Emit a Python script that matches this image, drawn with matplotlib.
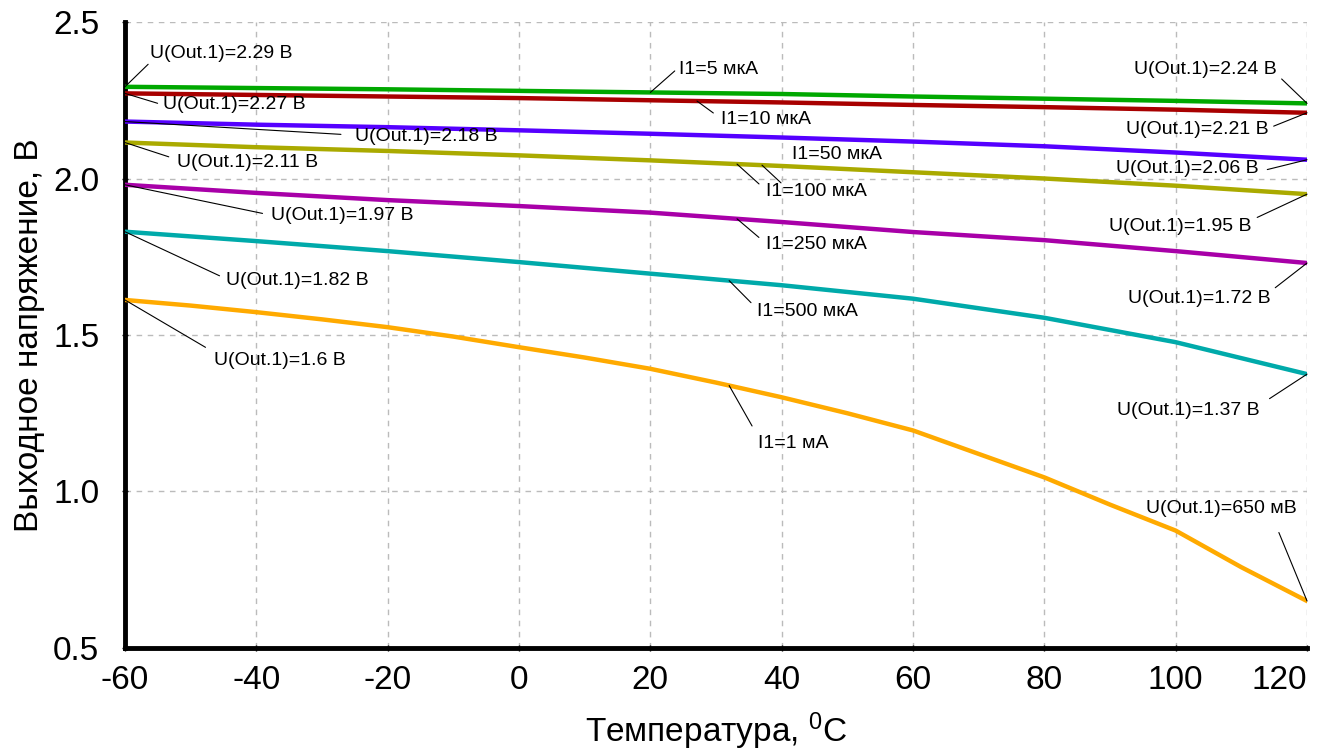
import numpy as np
import matplotlib
matplotlib.use('Agg')
import matplotlib.pyplot as plt

plt.rcParams['font.family'] = ['Liberation Sans', 'DejaVu Sans']
plt.rcParams['mathtext.fontset'] = 'custom'
plt.rcParams['mathtext.rm'] = 'Liberation Sans'
plt.rcParams['axes.unicode_minus'] = False

# temperature points, deg C
temp = [-60, -40, -20, 0, 20, 40, 60, 80, 100, 120]
temp_fine = [-60, -50, -40, -30, -20, -10, 0, 10, 20, 30, 40, 50, 60, 70, 80, 90, 100, 110, 120]

# output voltage, V
u_5uA = [2.293, 2.289, 2.285, 2.28, 2.275, 2.27, 2.262, 2.255, 2.248, 2.24]
u_10uA = [2.272, 2.267, 2.262, 2.257, 2.25, 2.243, 2.235, 2.228, 2.22, 2.21]
u_50uA = [2.182, 2.172, 2.164, 2.154, 2.143, 2.131, 2.118, 2.103, 2.083, 2.06]
u_100uA = [2.115, 2.10, 2.088, 2.074, 2.058, 2.04, 2.02, 2.0, 1.977, 1.95]
u_250uA = [1.98, 1.954, 1.931, 1.912, 1.891, 1.861, 1.829, 1.803, 1.768, 1.73]
u_500uA = [1.83, 1.80, 1.768, 1.733, 1.696, 1.659, 1.616, 1.555, 1.477, 1.375]
u_1mA = [1.612, 1.594, 1.573, 1.55, 1.525, 1.495, 1.461, 1.428, 1.392, 1.348,
         1.301, 1.25, 1.195, 1.12, 1.045, 0.958, 0.875, 0.758, 0.65]

series = [
    (temp, u_5uA, '#00A800'),
    (temp, u_10uA, '#A80000'),
    (temp, u_50uA, '#5500FF'),
    (temp, u_100uA, '#AAAA00'),
    (temp, u_250uA, '#A800A8'),
    (temp, u_500uA, '#00AAAA'),
    (temp_fine, u_1mA, '#FFAA00'),
]

fig = plt.figure(figsize=(13.18, 7.54), dpi=100)
ax = fig.add_axes([0.0948, 0.1406, 0.8969, 0.8302])

for t, u, c in series:
    ax.plot(t, u, color=c, lw=3.2, solid_capstyle='round', zorder=3)

ax.set_xlim(-60, 120)
ax.set_ylim(0.5, 2.5)
ax.set_xticks(range(-60, 121, 20))
ax.set_yticks([0.5, 1.0, 1.5, 2.0, 2.5])
ax.set_yticklabels(['0.5', '1.0', '1.5', '2.0', '2.5'])
ax.grid(True, ls=(0, (4, 4)), color='#BBBBBB', lw=1, zorder=0)
ax.tick_params(labelsize=24, length=5, width=1, direction='inout')
ax.tick_params(axis='x', pad=10)
ax.tick_params(axis='y', pad=16)
xt = ax.get_xticklabels()
xt[-1].set_ha('right')
xt[-1].set_x(120)

for s in ['top', 'right']:
    ax.spines[s].set_visible(False)
for s in ['left', 'bottom']:
    ax.spines[s].set_linewidth(3.5)

ax.set_xlabel('Температура, $\\mathregular{^0}$C', fontsize=24, labelpad=10)
ax.set_ylabel('Выходное напряжение, В', fontsize=24, labelpad=6)


def lead(txt, idx, xy_t, text_x, text_y, ha='left', relpos=(0, 0.5), shrink=0):
    t, u, _ = series[idx]
    y = np.interp(xy_t, t, u)
    ax.annotate(txt, xy=(xy_t, y), xytext=(text_x, text_y), ha=ha, va='center',
                fontsize=14, zorder=5,
                arrowprops=dict(arrowstyle='-', lw=0.8, color='black',
                                shrinkA=shrink, shrinkB=0, relpos=relpos))


# endpoint labels, left side
lead('U(Out.1)=2.29 В', 0, -60, -56.2, 2.401, relpos=(0.02, 0.1))
lead('U(Out.1)=2.27 В', 1, -60, -54.2, 2.235, relpos=(0, 0.5), shrink=2)
lead('U(Out.1)=2.18 В', 2, -60, -25.0, 2.133, relpos=(0, 0.6), shrink=8)
lead('U(Out.1)=2.11 В', 3, -60, -52.1, 2.050, relpos=(0, 0.7), shrink=4)
lead('U(Out.1)=1.97 В', 4, -60, -37.8, 1.883, relpos=(0, 0.5), shrink=4)
lead('U(Out.1)=1.82 В', 5, -60, -44.6, 1.674, relpos=(0, 0.6), shrink=3)
lead('U(Out.1)=1.6 В', 6, -60, -46.4, 1.417, relpos=(0, 1.0), shrink=5)

# endpoint labels, right side
lead('U(Out.1)=2.24 В', 0, 120, 115.4, 2.349, ha='right', relpos=(1, 0.2), shrink=2)
lead('U(Out.1)=2.21 В', 1, 120, 114.1, 2.155, ha='right', relpos=(1, 0.6), shrink=2)
lead('U(Out.1)=2.06 В', 2, 120, 112.7, 2.033, ha='right', relpos=(1, 0.3), shrink=4)
lead('U(Out.1)=1.95 В', 3, 120, 111.6, 1.846, ha='right', relpos=(1, 0.9), shrink=2)
lead('U(Out.1)=1.72 В', 4, 120, 114.4, 1.617, ha='right', relpos=(1, 0.9), shrink=2)
lead('U(Out.1)=1.37 В', 5, 120, 112.8, 1.260, ha='right', relpos=(1, 0.8), shrink=6)
lead('U(Out.1)=650 мВ', 6, 120, 118.4, 0.946, ha='right', relpos=(0.84, 0.0), shrink=10)

# current labels
lead('I1=5 мкА', 0, 20.0, 24.3, 2.349, relpos=(0, 0.6), shrink=1)
lead('I1=10 мкА', 1, 27.1, 30.7, 2.187, relpos=(0, 0.6), shrink=4)
lead('I1=100 мкА', 3, 33.2, 37.6, 1.960, relpos=(0, 0.55), shrink=4)
lead('I1=250 мкА', 4, 33.2, 37.6, 1.790, relpos=(0, 0.55), shrink=4)
lead('I1=500 мкА', 5, 32.0, 36.2, 1.574, relpos=(0, 0.7), shrink=3)
lead('I1=1 мА', 6, 32.0, 36.4, 1.154, relpos=(0, 0.9), shrink=5)

ax.text(41.5, 2.077, 'I1=50 мкА', fontsize=14, ha='left', va='center', zorder=5)
y50 = np.interp(37.0, temp, u_100uA)
ax.annotate('', xy=(37.0, y50), xytext=(39.9, 1.986),
            arrowprops=dict(arrowstyle='-', lw=0.8, color='black', shrinkA=0, shrinkB=0))

fig.savefig('out.png', dpi=100)
